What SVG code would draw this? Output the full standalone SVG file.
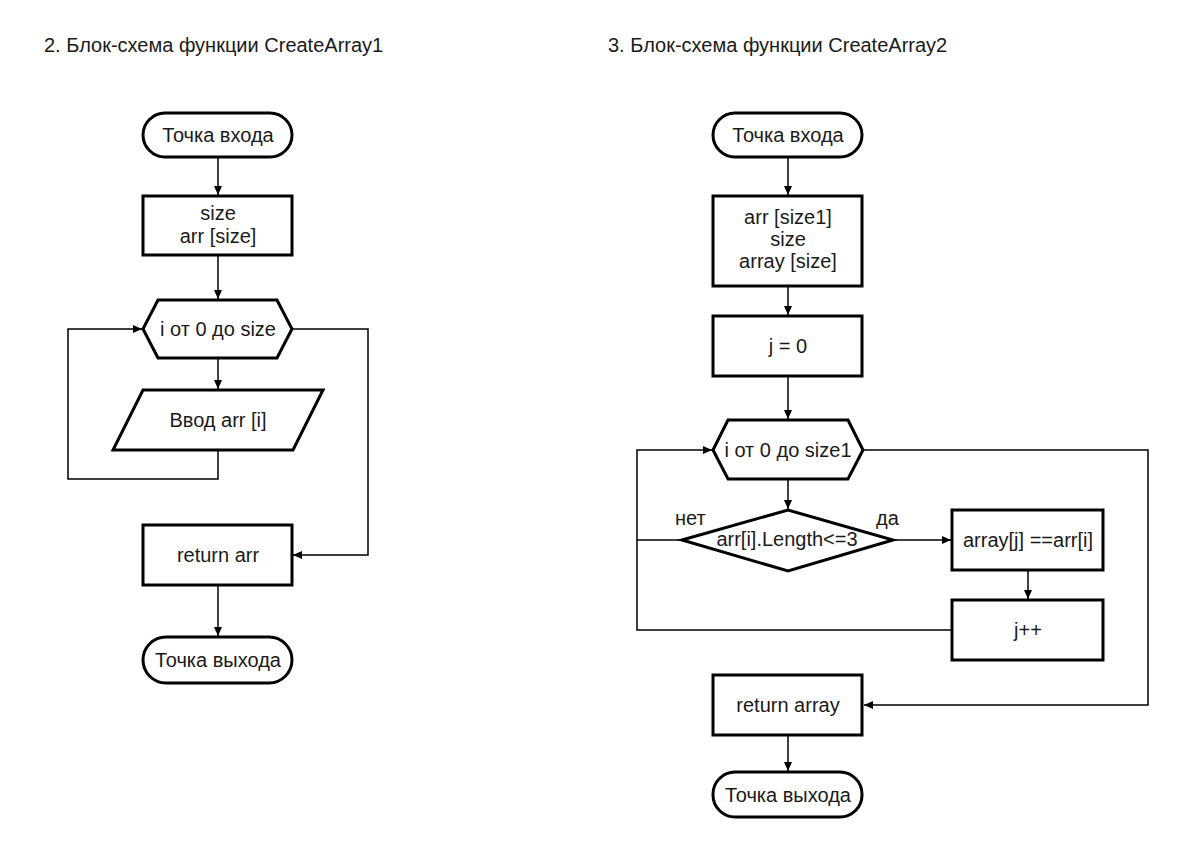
<svg xmlns="http://www.w3.org/2000/svg" width="1178" height="848" viewBox="0 0 1178 848">
<style>
.s{fill:#fff;stroke:#000;stroke-width:3}
.c{fill:none;stroke:#000;stroke-width:1.5}
text{font-family:"Liberation Sans",Arial,sans-serif;font-size:20px;fill:#1a1a1a}
.m{text-anchor:middle}
</style>
<defs>
<marker id="a" markerUnits="userSpaceOnUse" markerWidth="10" markerHeight="8" refX="9" refY="4" orient="auto">
<path d="M0,0 L9,4 L0,8 Z" fill="#000"/>
</marker>
</defs>
<rect width="1178" height="848" fill="#fff"/>
<text x="44" y="52">2. Блок-схема функции CreateArray1</text>
<text x="608" y="52">3. Блок-схема функции CreateArray2</text>

<g id="connectors">
<path class="c" d="M218,157 V195" marker-end="url(#a)"/>
<path class="c" d="M218,255 V299" marker-end="url(#a)"/>
<path class="c" d="M218,358 V389" marker-end="url(#a)"/>
<path class="c" d="M218,450 V479 H68 V329 H142" marker-end="url(#a)"/>
<path class="c" d="M292,329 H368 V555 H293" marker-end="url(#a)"/>
<path class="c" d="M218,585 V636" marker-end="url(#a)"/>

<path class="c" d="M788,157 V195" marker-end="url(#a)"/>
<path class="c" d="M788,286 V315" marker-end="url(#a)"/>
<path class="c" d="M788,376 V419" marker-end="url(#a)"/>
<path class="c" d="M788,479 V509" marker-end="url(#a)"/>
<path class="c" d="M893,540 H951" marker-end="url(#a)"/>
<path class="c" d="M1028,570 V599" marker-end="url(#a)"/>
<path class="c" d="M682,540 H637"/>
<path class="c" d="M952,630 H637 V450 H712" marker-end="url(#a)"/>
<path class="c" d="M863,450 H1148 V705 H864" marker-end="url(#a)"/>
<path class="c" d="M788,735 V771" marker-end="url(#a)"/>
</g>

<g id="l-start"><rect class="s" x="143" y="113" width="149" height="44" rx="22"/><text class="m" x="218" y="142">Точка входа</text></g>
<g id="l-decl"><rect class="s" x="143" y="196" width="149" height="59"/><text class="m" x="218" y="220">size</text><text class="m" x="218" y="243">arr [size]</text></g>
<g id="l-loop"><polygon class="s" points="143,329 158,300 277,300 292,329 277,358 158,358"/><text class="m" x="218" y="336">i от 0 до size</text></g>
<g id="l-input"><polygon class="s" points="143,390 323,390 293,450 113,450"/><text class="m" x="218" y="427">Ввод arr [i]</text></g>
<g id="l-return"><rect class="s" x="143" y="525" width="149" height="60"/><text class="m" x="218" y="562">return arr</text></g>
<g id="l-end"><rect class="s" x="143" y="637" width="149" height="46" rx="23"/><text class="m" x="218" y="667">Точка выхода</text></g>

<g id="r-start"><rect class="s" x="713" y="113" width="149" height="44" rx="22"/><text class="m" x="788" y="142">Точка входа</text></g>
<g id="r-decl"><rect class="s" x="713" y="196" width="149" height="90"/><text class="m" x="788" y="224">arr [size1]</text><text class="m" x="788" y="246">size</text><text class="m" x="788" y="268">array [size]</text></g>
<g id="r-j0"><rect class="s" x="713" y="316" width="149" height="60"/><text class="m" x="788" y="353">j = 0</text></g>
<g id="r-loop"><polygon class="s" points="713,450 728,420 848,420 863,450 848,479 728,479"/><text class="m" x="788" y="457">i от 0 до size1</text></g>
<g id="r-cond"><polygon class="s" points="682,540 788,510 893,540 788,571"/><text class="m" x="787" y="546">arr[i].Length&lt;=3</text></g>
<g id="r-no"><text x="675" y="525">нет</text></g>
<g id="r-yes"><text x="876" y="525">да</text></g>
<g id="r-assign"><rect class="s" x="952" y="510" width="151" height="60"/><text class="m" x="1028" y="547">array[j] ==arr[i]</text></g>
<g id="r-inc"><rect class="s" x="952" y="600" width="151" height="60"/><text class="m" x="1028" y="637">j++</text></g>
<g id="r-return"><rect class="s" x="713" y="675" width="149" height="60"/><text class="m" x="788" y="712">return array</text></g>
<g id="r-end"><rect class="s" x="713" y="772" width="149" height="45" rx="22"/><text class="m" x="788" y="802">Точка выхода</text></g>
</svg>
